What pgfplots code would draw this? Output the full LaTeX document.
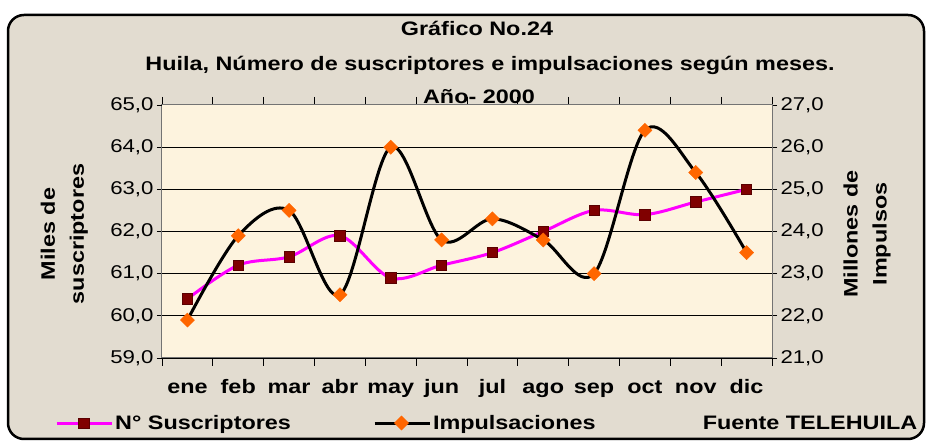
\documentclass[border=0pt]{standalone}
\usepackage{fontspec}
\setmainfont{Liberation Sans}[FakeStretch=1.2]
\usepackage{pgfplots}
\pgfplotsset{compat=1.18}
\definecolor{bgbeige}{RGB}{226,220,208}
\definecolor{plotcream}{RGB}{253,243,222}
\definecolor{sqred}{RGB}{128,0,0}
\definecolor{orng}{RGB}{255,102,0}
\definecolor{mag}{RGB}{255,0,255}
\newcommand{\tfont}{\fontsize{18.5}{21}\selectfont}
\newcommand{\bfont}{\bfseries\fontsize{19.5}{22}\selectfont}
\newcommand{\lfont}{\bfseries\fontsize{19.5}{29}\selectfont}
\pgfplotsset{
  common/.style={
    at={(162pt,83pt)}, anchor=south west,
    width=610pt, height=253pt, scale only axis,
    xmin=0.5, xmax=12.5,
    tick align=outside,
    major tick length=5pt,
    minor tick length=8pt,
    tick style={black, line width=0.8pt},
    yticklabel style={font=\tfont},
    /pgf/number format/.cd, fixed, fixed zerofill, precision=1, use comma, assume math mode=true,
  },
  susstyle/.style={mag, line width=3pt, smooth, tension=0.55, mark=square*, mark size=5.2pt,
     mark options={fill=sqred, draw=sqred!70!black, line width=0.6pt, solid}},
  impstyle/.style={black, line width=3pt, smooth, tension=0.55, mark=square*, mark size=5pt,
     mark options={fill=orng, draw=orng, line width=0.4pt, rotate=45, solid}},
}
\begin{document}
\begin{tikzpicture}[x=1pt,y=1pt]
\fill[white] (0,0) rectangle (927,441);
\draw[line width=2.5pt, fill=bgbeige, rounded corners=16pt] (8,2) rectangle (924,426);

\begin{axis}[common,
  ymin=59, ymax=65,
  ytick={59,60,61,62,63,64},
  extra y ticks={65},
  extra y tick style={ymajorgrids=false},
  ymajorgrids,
  grid style={black, line width=0.7pt},
  axis background/.style={fill=plotcream},
  axis line style={gray!90!black, line width=1pt},
  xtick={1,...,12},
  xticklabels={ene,feb,mar,abr,may,jun,jul,ago,sep,oct,nov,dic},
  xticklabel style={font=\bfont, text height=14.5pt, text depth=4.5pt, yshift=-12pt},
  major x tick style={draw=none},
  minor xtick={0.5,1.5,...,12.5},
  ytick pos=left,
  ylabel={Miles de\\suscriptores},
  ylabel style={font=\lfont, align=center, at={(axis description cs:-0.16,0.49)}, anchor=center},
]
\addplot[susstyle] coordinates {
(1,60.4) (2,61.2) (3,61.4) (4,61.9) (5,60.9) (6,61.2)
(7,61.5) (8,62.0) (9,62.5) (10,62.4) (11,62.7) (12,63.0)};
\end{axis}

\begin{axis}[common,
  ymin=21, ymax=27,
  ytick={21,...,27},
  axis y line*=right,
  axis x line=none,
  y axis line style={gray!90!black, line width=1pt},
  ylabel={Millones de\\Impulsos},
  ylabel style={font=\lfont, align=center, at={(axis description cs:1.156,0.49)}, anchor=center, rotate=0},
  legend columns=2,
  legend style={at={(axis description cs:-0.1754,-0.257)}, anchor=west, draw=none, fill=none,
     inner sep=0pt, font=\bfont, /tikz/every even column/.append style={column sep=80pt}},
  legend image code/.code={\draw[mark repeat=2,mark phase=2] plot coordinates {(0pt,0pt) (27pt,0pt) (55pt,0pt)};},
]
\addlegendimage{susstyle}
\addlegendentry{N° Suscriptores}
\addplot[impstyle] coordinates {
(1,21.9) (2,23.9) (3,24.5) (4,22.5) (5,26.0) (6,23.8)
(7,24.3) (8,23.8) (9,23.0) (10,26.4) (11,25.4) (12,23.5)};
\addlegendentry{Impulsaciones}
\end{axis}

\node[font=\bfont] at (477,413) {Gráfico No.24};
\node[font=\bfont] at (490,376) {Huila, Número de suscriptores e impulsaciones según meses.};
\node[font=\bfont] at (479,344) {Año- 2000};
\node[font=\bfont] at (810,18) {Fuente TELEHUILA};
\end{tikzpicture}
\end{document}
